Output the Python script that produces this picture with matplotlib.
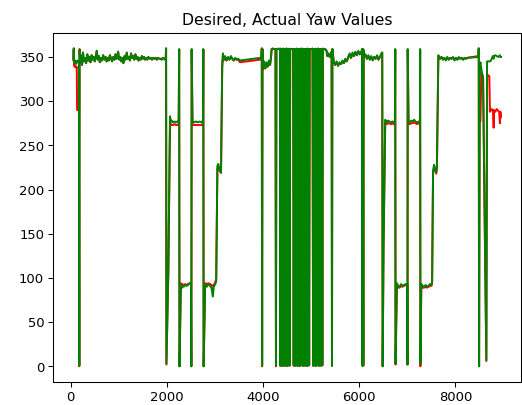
import matplotlib
matplotlib.use("Agg")
import matplotlib.pyplot as plt

time = [
    55, 62, 68, 80, 95, 110, 125, 132, 150, 170, 178, 184, 195,
    210, 235, 255, 275, 300, 320, 345, 365, 390, 410,
    435, 455, 480, 500, 520, 541, 560, 585, 605, 630,
    650, 675, 700, 725, 745, 770, 790, 815, 840, 860,
    885, 910, 930, 955, 986, 1005, 1030, 1050, 1075, 1095,
    1120, 1140, 1165, 1185, 1210, 1230, 1255, 1275, 1300, 1320,
    1345, 1365, 1390, 1410, 1435, 1455, 1480, 1500, 1525, 1545,
    1570, 1590, 1615, 1640, 1665, 1690, 1715, 1740, 1765, 1790,
    1815, 1840, 1865, 1890, 1915, 1940, 1965,
    1975, 1983, 1990, 2030, 2065, 2080, 2100, 2130, 2160, 2190, 2220, 2245, 2255, 2262,
    2290, 2300, 2320, 2350, 2380, 2410, 2440, 2470, 2500, 2508, 2515,
    2532, 2560, 2600, 2640, 2680, 2720, 2750, 2757, 2764,
    2795, 2830, 2860, 2900, 2930, 2955, 2975, 3005, 3025, 3050, 3070, 3090, 3110, 3125, 3150, 3165, 3180,
    3210, 3240, 3270, 3300, 3330, 3360, 3390, 3420, 3450, 3480, 3520, 3940, 3965,
    3973, 3980, 3988, 3998, 4020, 4045, 4070, 4095, 4120, 4145, 4165, 4178, 4200, 4230, 4258, 4268, 4278, 4300, 4330, 4352,
    4360, 4372, 4384, 4396, 4408, 4420, 4432, 4444, 4456, 4468, 4480, 4492, 4504, 4516, 4528, 4540, 4552, 4564,
    4595, 4625, 4637, 4649, 4661, 4673, 4685, 4697, 4709, 4721, 4733, 4745, 4757, 4769, 4781, 4793, 4805, 4817,
    4829, 4841, 4862, 4874, 4886, 4898, 4910, 4922, 4934, 4946, 4958, 4970, 5000, 5028,
    5040, 5052, 5064, 5076, 5088, 5100, 5112, 5124, 5136, 5148, 5160, 5172, 5184, 5196, 5208, 5220, 5232, 5244,
    5270, 5300, 5320, 5335, 5360, 5385, 5410, 5425, 5433, 5441, 5470,
    5500, 5530, 5560, 5590, 5620, 5650, 5680, 5710, 5740, 5770, 5800, 5830, 5860, 5890, 5920, 5950, 5980,
    6010, 6040, 6060, 6068, 6075, 6085, 6092, 6105,
    6130, 6160, 6190, 6220, 6250, 6280, 6310, 6340, 6370, 6400, 6430, 6460, 6478, 6487, 6505, 6540, 6570,
    6600, 6630, 6660, 6690, 6720, 6742, 6748, 6755,
    6783, 6810, 6840, 6870, 6900, 6930, 6965, 6998, 7003, 7008, 7025, 7050, 7080, 7110, 7140, 7170, 7200,
    7240, 7262, 7266, 7272,
    7290, 7320, 7350, 7380, 7410, 7440, 7470, 7500, 7515, 7535, 7555, 7575, 7600, 7615, 7645, 7680,
    7710, 7740, 7770, 7800, 7830, 7860, 7890, 7920, 7950, 7980, 8010, 8040, 8070, 8100, 8130, 8160, 8190,
    8220, 8245, 8470,
    8478, 8485, 8492, 8505, 8520, 8540, 8560, 8575, 8607, 8643, 8658, 8690, 8705, 8718, 8740, 8760, 8780,
    8795, 8805, 8830, 8860, 8890, 8910, 8925, 8935, 8947,
]

actual_yaw = [
    347, 360, 347, 343, 346, 342, 345, 344, 346, 345, 1, 358, 344,
    352, 341, 355, 345, 349, 343, 353, 346, 350, 344,
    352, 347, 350, 345, 351, 357, 347, 351, 344, 349,
    346, 352, 347, 350, 345, 349, 346, 352, 348, 345,
    350, 347, 353, 348, 356, 347, 350, 345, 349, 343,
    351, 347, 355, 348, 350, 346, 354, 349, 351, 347,
    353, 348, 350, 346, 349, 347, 351, 348, 350, 347,
    349, 347, 350, 348, 349, 347, 349, 348, 349, 347,
    349, 348, 348, 347, 349, 348, 347,
    348, 360, 3, 110, 283, 277, 278, 276, 277, 276, 277, 279, 359, 0,
    92, 88, 91, 90, 92, 91, 92, 94, 93, 0, 359,
    277, 276, 277, 276, 277, 276, 278, 359, 0,
    92, 90, 93, 91, 88, 79, 90, 93, 96, 227, 229, 222, 225, 219, 340, 354, 347,
    351, 346, 350, 347, 351, 348, 346, 349, 347, 348, 346, 349, 349,
    360, 1, 358, 340, 345, 337, 344, 339, 346, 341, 350, 359, 359.5, 359, 358.5, 1, 359, 359.3, 358.8, 359.5,
    0.5, 359, 1, 358.5, 0.3, 359.4, 1.2, 358.8, 0.6, 359.2, 0.9, 359.5, 0.4, 358.7, 1.1, 359.3, 0.7, 359,
    359.2, 358.9, 0.8, 359.1, 0.4, 358.6, 1.3, 359.4, 0.6, 358.9, 1.0, 359.2, 0.3, 358.7, 0.9, 359.5, 1.4, 358.8,
    0.5, 359.3, 0.7, 359.0, 1.1, 358.6, 0.4, 359.4, 0.8, 358.9, 1.2, 359.2, 358.8, 359.4,
    0.6, 359.0, 1.2, 358.7, 0.4, 359.3, 0.9, 358.9, 1.3, 359.5, 0.5, 358.6, 1.0, 359.2, 0.7, 358.8, 1.1, 359.4,
    359, 358.5, 357, 351, 354, 350, 353, 356, 0.5, 359, 344,
    341, 345, 340, 344, 342, 346, 343, 348, 345, 350, 354, 349, 355, 351, 356, 352, 357,
    353, 355, 359, 0.5, 359, 1, 358, 352,
    353, 348, 352, 347, 351, 346, 350, 348, 352, 347, 350, 354, 355, 0, 135, 279, 276,
    278, 277, 276, 277, 276, 278, 359, 3,
    94, 91, 90, 93, 91, 92, 93, 92, 2, 359, 277, 276, 278, 277, 279, 277, 276,
    277, 278, 359, 3,
    93, 91, 90, 92, 90, 91, 93, 92, 95, 221, 228, 224, 219, 226, 352, 348,
    350, 347, 349, 346, 350, 347, 349, 348, 350, 346, 349, 347, 350, 348, 349, 347, 349,
    348, 349, 350,
    350, 360, 0, 340, 344, 336, 330, 328, 171, 7, 345, 345, 345, 345, 346, 349, 351,
    348, 351, 352, 351, 350, 351, 352, 350, 350,
]

desired_yaw = [
    347, 358, 341, 339, 340, 338, 339, 290, 290, 290, 0, 359, 345,
    352, 341, 355, 345, 349, 343, 353, 346, 350, 344,
    352, 347, 350, 345, 351, 357, 347, 351, 344, 349,
    346, 352, 347, 350, 345, 349, 346, 352, 348, 345,
    350, 347, 353, 348, 356, 347, 350, 345, 349, 343,
    351, 347, 355, 348, 350, 346, 354, 349, 351, 347,
    353, 348, 350, 346, 349, 347, 351, 348, 350, 347,
    349, 347, 350, 348, 349, 347, 349, 348, 349, 347,
    349, 348, 348, 347, 349, 348, 347,
    348, 359, 2, 108, 280, 274, 273, 273, 274, 273, 273, 274, 358, 0,
    94, 92, 93, 92, 93, 92, 93, 94, 94, 0, 358,
    274, 273, 273, 273, 273, 273, 274, 358, 0,
    94, 93, 94, 93, 92, 90, 92, 95, 99, 224, 226, 222, 220, 219, 338, 352, 346,
    350, 346, 349, 347, 350, 348, 346, 348, 347, 347, 344, 347, 348,
    359, 0, 359, 336, 343, 337, 342, 339, 344, 341, 349, 359, 359.5, 359, 358.5, 0, 359, 359.3, 358.8, 359.5,
    0.5, 359, 1, 358.5, 0.3, 359.4, 1.2, 358.8, 0.6, 359.2, 0.9, 359.5, 0.4, 358.7, 1.1, 359.3, 0.7, 359,
    359.2, 358.9, 0.8, 359.1, 0.4, 358.6, 1.3, 359.4, 0.6, 358.9, 1.0, 359.2, 0.3, 358.7, 0.9, 359.5, 1.4, 358.8,
    0.5, 359.3, 0.7, 359.0, 1.1, 358.6, 0.4, 359.4, 0.8, 358.9, 1.2, 359.2, 358.8, 359.4,
    0.6, 359.0, 1.2, 358.7, 0.4, 359.3, 0.9, 358.9, 1.3, 359.5, 0.5, 358.6, 1.0, 359.2, 0.7, 358.8, 1.1, 359.4,
    359, 358.5, 357, 351, 354, 350, 353, 356, 0.5, 359, 344,
    341, 344, 340, 343, 342, 345, 343, 347, 345, 349, 353, 349, 354, 351, 355, 352, 356,
    353, 355, 359, 0.5, 359, 1, 358, 351,
    352, 348, 351, 347, 350, 347, 350, 348, 351, 347, 350, 353, 355, 0, 132, 276, 274,
    275, 275, 274, 275, 274, 275, 358, 2,
    91, 89, 89, 91, 90, 91, 92, 92, 2, 358, 275, 274, 275, 275, 276, 275, 274,
    275, 276, 358, 0,
    90, 89, 89, 90, 89, 90, 91, 91, 93, 219, 225, 222, 218, 224, 350, 348,
    350, 347, 349, 347, 349, 347, 349, 348, 349, 347, 349, 347, 349, 348, 349, 347, 349,
    348, 349, 351,
    350, 359, 0, 275, 278, 332, 328, 326, 171, 6, 330, 329, 328, 288, 290, 291, 289,
    270, 290, 288, 291, 289, 288, 275, 288, 282,
]

DPI = 94.4
fig = plt.figure(figsize=(522.3 / DPI, 405.3 / DPI), dpi=DPI)
ax = fig.add_axes([53.3 / 522, 23.3 / 405, 467.7 / 522, 348.4 / 405])
ax.plot(time, desired_yaw, color="red")
ax.plot(time, actual_yaw, color="green")
ax.set_xlim(-362, 9370)
ax.set_ylim(-17.4, 377.1)
ax.set_title("Desired, Actual Yaw Values")
fig.savefig("out.png", dpi=DPI)
